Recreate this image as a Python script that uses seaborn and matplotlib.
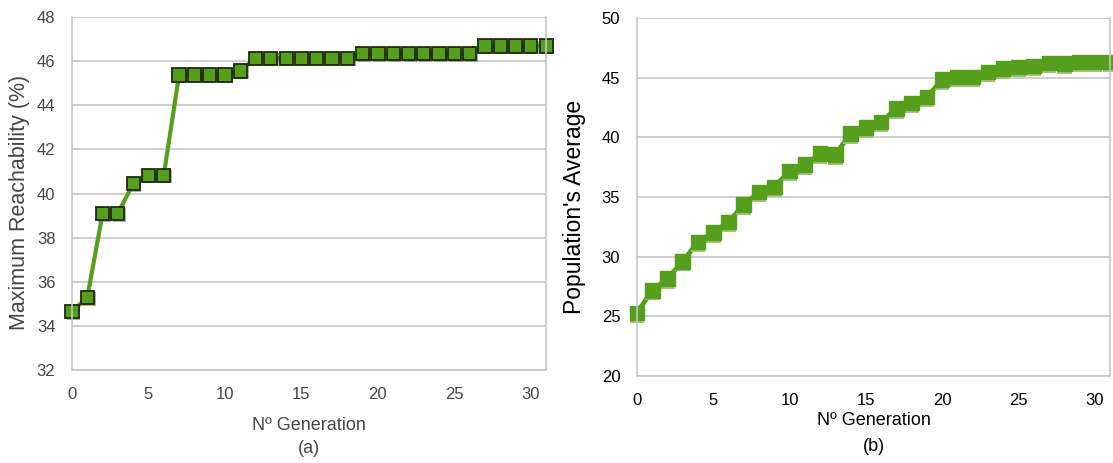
import numpy as np
import pandas as pd
import matplotlib
matplotlib.use("Agg")
import matplotlib.pyplot as plt
import matplotlib.patheffects as pe
import seaborn as sns

# Data
generation = list(range(32))
max_reach = [34.66, 35.29, 39.10, 39.10, 40.45, 40.83, 40.83, 45.38, 45.38, 45.38,
             45.38, 45.56, 46.14, 46.14, 46.14, 46.14, 46.14, 46.14, 46.14, 46.35,
             46.35, 46.35, 46.35, 46.35, 46.35, 46.35, 46.35, 46.69, 46.69, 46.69,
             46.69, 46.69]
pop_avg = [25.28, 27.18, 28.16, 29.61, 31.23, 32.01, 32.91, 34.36, 35.42, 35.84,
           37.18, 37.71, 38.63, 38.55, 40.31, 40.81, 41.28, 42.40, 42.88, 43.38,
           44.83, 45.06, 45.06, 45.47, 45.75, 45.89, 45.98, 46.23, 46.17, 46.31,
           46.31, 46.31]

df = pd.DataFrame({"gen": generation, "max_reach": max_reach, "pop_avg": pop_avg})

sns.set_style("white")
plt.rcParams["font.family"] = ["Liberation Sans", "DejaVu Sans"]

green = "#559f1d"
grid_col = "#c6c6c6"

fig = plt.figure(figsize=(11.13, 4.63), dpi=100)
ax1 = fig.add_axes([0.0647, 0.201, 0.426, 0.762])
ax2 = fig.add_axes([0.5723, 0.188, 0.425, 0.773])


def style_axis(ax, text_col):
    ax.grid(axis="y", color=grid_col, linewidth=1.2)
    ax.grid(axis="x", visible=False)
    ax.set_axisbelow(True)
    for s in ["left", "bottom", "right"]:
        ax.spines[s].set_visible(True)
        ax.spines[s].set_color(grid_col)
        ax.spines[s].set_linewidth(1.2)
    ax.spines["top"].set_visible(False)
    ax.tick_params(axis="both", direction="out", length=6, width=1.2, color=grid_col,
                   labelsize=12, labelcolor=text_col, pad=6)
    ax.set_xticks(range(0, 31, 5))
    ax.set_xlim(0, 31)


# (a) Maximum reachability: line, then markers with a grey drop shadow
sns.lineplot(data=df, x="gen", y="max_reach", ax=ax1, color=green, linewidth=3,
             clip_on=False)
sns.lineplot(data=df, x="gen", y="max_reach", ax=ax1, linestyle="", marker="s",
             markersize=9.5, markerfacecolor=green, markeredgecolor="#1c2a10",
             markeredgewidth=1.3, clip_on=False,
             path_effects=[pe.SimplePatchShadow(offset=(1.2, -1.2), shadow_rgbFace="#777777",
                                                alpha=0.6), pe.Normal()])
style_axis(ax1, "#454545")
ax1.set_ylim(32, 48)
ax1.set_yticks(range(32, 49, 2))
ax1.set_ylabel("Maximum Reachability (%)", fontsize=15.5, color="#454545")
ax1.yaxis.set_label_coords(-0.089, 0.476)
ax1.set_xlabel("Nº Generation\n(a)", fontsize=13, color="#454545", labelpad=11,
               linespacing=1.45)

# (b) Population's average: markers with a light green shadow below
sns.lineplot(data=df, x="gen", y="pop_avg", ax=ax2, color=green, linewidth=3.5,
             clip_on=False)
sns.lineplot(data=df, x="gen", y="pop_avg", ax=ax2, linestyle="", marker="s",
             markersize=10.5, markerfacecolor=green, markeredgecolor=green,
             markeredgewidth=1, clip_on=False,
             path_effects=[pe.SimplePatchShadow(offset=(0, -2), shadow_rgbFace="#9cc878",
                                                alpha=1), pe.Normal()])
style_axis(ax2, "black")
ax2.set_ylim(20, 50)
ax2.set_yticks(range(20, 51, 5))
ax2.set_ylabel("Population's Average", fontsize=16.5, color="black")
ax2.yaxis.set_label_coords(-0.107, 0.472)
ax2.set_xlabel("Nº Generation\n(b)", fontsize=13, color="black", labelpad=3,
               linespacing=1.7)

fig.savefig("out.png", dpi=100)
